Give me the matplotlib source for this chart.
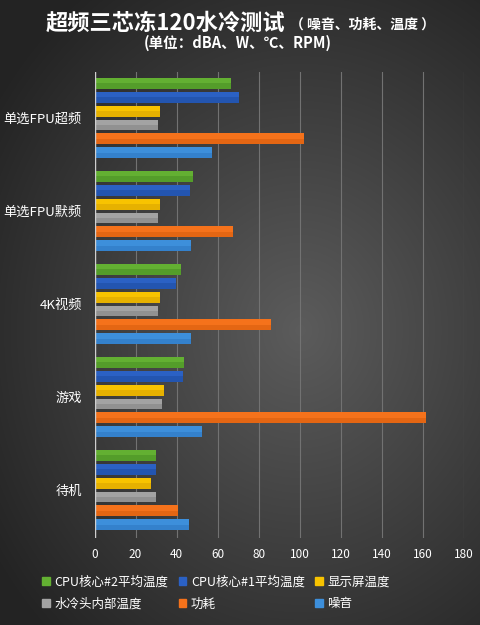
import numpy as np
import matplotlib.pyplot as plt

plt.rcParams['font.family'] = ['Noto Sans CJK SC', 'DejaVu Sans']

categories = ['单选FPU超频', '单选FPU默频', '4K视频', '游戏', '待机']
series_names = ['CPU核心#2平均温度', 'CPU核心#1平均温度', '显示屏温度',
                '水冷头内部温度', '功耗', '噪音']
cpu2_temp = [66.5, 48, 42, 43.5, 30]
cpu1_temp = [70.5, 46.5, 39.5, 43, 30]
screen_temp = [32, 32, 32, 34, 27.5]
block_temp = [31, 31, 31, 33, 30]
power = [102, 67.5, 86, 161.5, 40.5]
noise = [57, 47, 47, 52.5, 46]
series = [cpu2_temp, cpu1_temp, screen_temp, block_temp, power, noise]
colors = ['#63b032', '#2b61c4', '#f8c300', '#a3a3a3', '#f5721b', '#3d8fdb']
dark = ['#4a9126', '#1f4ea3', '#dba600', '#858585', '#d95e0f', '#2f78c2']
xticks = [0, 20, 40, 60, 80, 100, 120, 140, 160, 180]

fig = plt.figure(figsize=(4.8, 6.25), dpi=100)

# radial background
bg = fig.add_axes([0, 0, 1, 1])
yy, xx = np.mgrid[0:625, 0:480]
r = np.sqrt(((xx - 300) / 330.0) ** 2 + ((yy - 330) / 380.0) ** 2)
shade = np.clip(0.36 - 0.2 * r, 0.14, 0.36)
bg.imshow(np.dstack([shade] * 3), aspect='auto', extent=[0, 1, 0, 1])
bg.axis('off')

ax = fig.add_axes([94.5 / 480, 1 - 538 / 625, (464 - 94.5) / 480, (538 - 72) / 625])
ax.set_facecolor('none')

y = np.arange(len(categories))
step = 0.15
h = 0.118
for k, (vals, c, d) in enumerate(zip(series, colors, dark)):
    pos = y + (k - 2.5) * step
    ax.barh(pos, vals, height=h, color=c, linewidth=0, zorder=3)
    ax.barh(pos + h / 4, vals, height=h / 2, color=d, linewidth=0, zorder=3, alpha=0.6)

ax.set_xlim(0, 180)
ax.set_ylim(4.516, -0.495)
ax.set_xticks(xticks)
ax.set_yticks(y)
ax.set_yticklabels(categories)
ax.tick_params(axis='y', length=0, pad=9, labelsize=9.5, colors='white')
ax.tick_params(axis='x', length=0, pad=7, labelsize=8.5, colors='white')
ax.grid(axis='x', color='#727272', linewidth=0.8, zorder=0)
for s in ax.spines.values():
    s.set_visible(False)
ax.axvline(0, color='#cfcfcf', linewidth=1, zorder=4)

fig.text(285 / 480, 1 - 23 / 625, '超频三芯冻120水冷测试', fontsize=16, fontweight='bold',
         color='white', ha='right', va='center')
fig.text(290 / 480, 1 - 25 / 625, '（ 噪音、功耗、温度 ）', fontsize=10, fontweight='bold',
         color='white', ha='left', va='center')
fig.text(238 / 480, 1 - 43 / 625, '(单位：dBA、W、℃、RPM)', fontsize=10.5, fontweight='bold',
         color='white', ha='center', va='center')

handles = [plt.Rectangle((0, 0), 1, 1, color=c) for c in colors]
order = [0, 3, 1, 4, 2, 5]
leg = fig.legend([handles[i] for i in order], [series_names[i] for i in order],
                 loc='center left', bbox_to_anchor=(42 / 480, 1 - 593 / 625),
                 ncol=3, frameon=False, fontsize=9, labelcolor='white',
                 handlelength=0.6, handleheight=0.6, handletextpad=0.4,
                 columnspacing=0.8, labelspacing=0.7, borderpad=0, borderaxespad=0)

fig.savefig('out.png', dpi=100)
